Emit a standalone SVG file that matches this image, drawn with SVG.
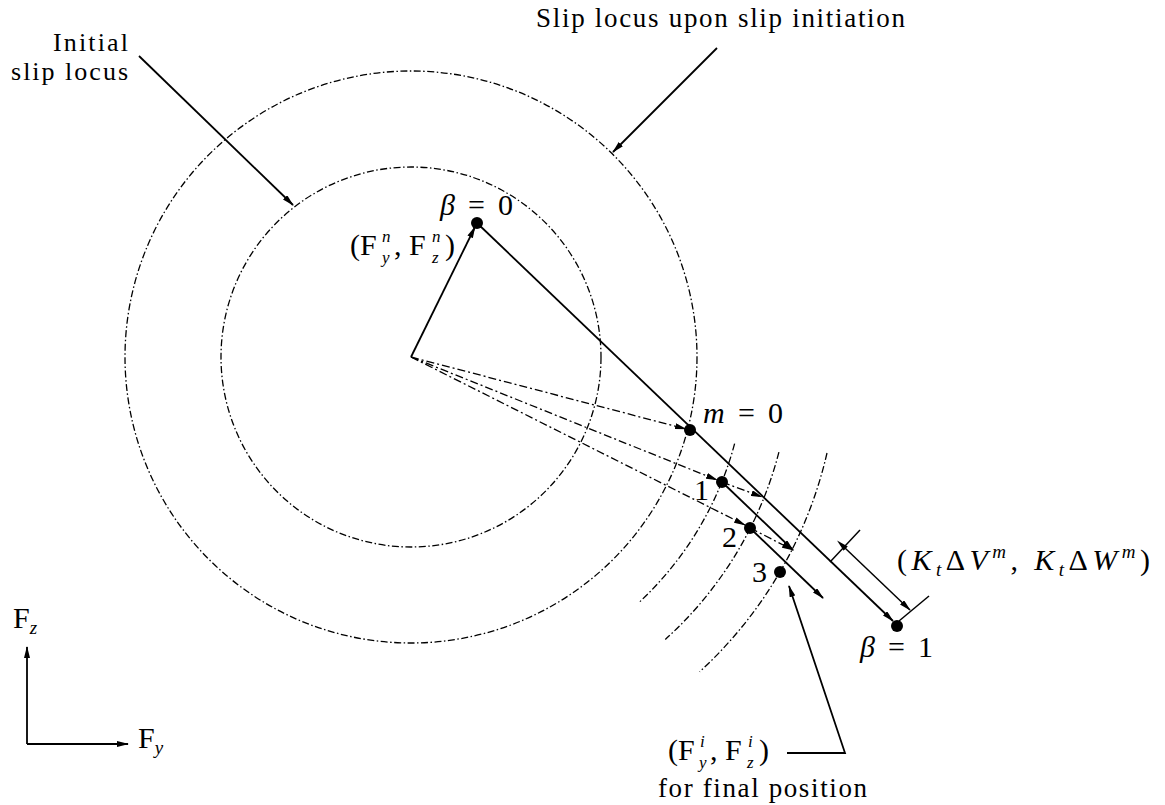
<svg xmlns="http://www.w3.org/2000/svg" width="1165" height="805" viewBox="0 0 1165 805">
<defs>
<marker id="ah" viewBox="0 0 12 6" refX="11" refY="3" markerWidth="12" markerHeight="6" markerUnits="userSpaceOnUse" orient="auto">
<path d="M0,0 L12,3 L0,6 z" fill="#000"/>
</marker>
<marker id="ahs" viewBox="0 0 12 6" refX="1" refY="3" markerWidth="12" markerHeight="6" markerUnits="userSpaceOnUse" orient="auto-start-reverse">
<path d="M0,0 L12,3 L0,6 z" fill="#000"/>
</marker>
</defs>
<style>
.t{font-size:27px}
.m{font-size:30px}
.i{font-style:italic}
.s{font-size:19px}
.ss{font-size:17px;font-style:italic}
.loc{fill:none;stroke:#000;stroke-width:1.3;stroke-dasharray:7 2.5 1.5 2.5}
.rad{fill:none;stroke:#000;stroke-width:1.3;stroke-dasharray:8 3 2 3}
.sol{fill:none;stroke:#000;stroke-width:1.8}
.thin{fill:none;stroke:#000;stroke-width:1.5}
</style>
<rect width="1165" height="805" fill="#fff"/>

<g id="loci">
<circle id="initial-locus" class="loc" cx="411" cy="357" r="190"/>
<circle id="initiation-locus" class="loc" cx="411" cy="357" r="286"/>
<path id="arc1" class="loc" d="M734.6,443.7 A335,335 0 0 1 639.5,602"/>
<path id="arc2" class="loc" d="M778.9,452.2 A380,380 0 0 1 665.3,639.4"/>
<path id="arc3" class="loc" d="M827,453 A427,427 0 0 1 699.6,671.8"/>
</g>

<g id="connectors">
<line class="sol" x1="139" y1="56" x2="293" y2="205" marker-end="url(#ah)"/>
<line class="sol" x1="717" y1="48" x2="613" y2="152" marker-end="url(#ah)"/>
<line class="sol" x1="411" y1="357" x2="475" y2="227" marker-end="url(#ah)"/>
<line class="sol" x1="477" y1="223" x2="893" y2="621" marker-end="url(#ah)"/>
<line class="rad" x1="411" y1="357" x2="686" y2="429" marker-end="url(#ah)"/>
<line class="rad" x1="411" y1="357" x2="717" y2="480" marker-end="url(#ah)"/>
<line class="rad" x1="722" y1="482" x2="762" y2="497" marker-end="url(#ah)"/>
<line class="rad" x1="411" y1="357" x2="745" y2="525" marker-end="url(#ah)"/>
<line class="rad" x1="750" y1="528" x2="793" y2="550" marker-end="url(#ah)"/>
<line class="sol" x1="722" y1="482" x2="793" y2="550" marker-end="url(#ah)"/>
<line class="sol" x1="750" y1="528" x2="823" y2="598" marker-end="url(#ah)"/>
<line class="thin" x1="830" y1="562" x2="860" y2="530"/>
<line class="thin" x1="899" y1="621" x2="929" y2="596"/>
<line class="thin" x1="845" y1="548" x2="910" y2="610" marker-start="url(#ahs)" marker-end="url(#ah)"/>
<polyline class="sol" points="787,753 845,753 789,586" marker-end="url(#ah)"/>
<line class="sol" x1="27" y1="744" x2="27" y2="647" marker-end="url(#ah)"/>
<line class="sol" x1="27" y1="744" x2="128" y2="744" marker-end="url(#ah)"/>
</g>

<g id="points">
<circle id="beta0" cx="477" cy="223" r="6"/>
<circle id="m0" cx="690" cy="430" r="6"/>
<circle id="p1" cx="722" cy="482" r="6"/>
<circle id="p2" cx="750" cy="528" r="6"/>
<circle id="p3" cx="780" cy="572" r="6"/>
<circle id="beta1" cx="897" cy="626" r="6"/>
</g>

<g font-family="Liberation Serif, Times New Roman, DejaVu Serif, serif" fill="#000">
<g id="label-initial">
<text font-size="26" x="128" y="51" text-anchor="end" textLength="75" lengthAdjust="spacing">Initial</text>
<text font-size="26" x="128" y="80" text-anchor="end" textLength="117" lengthAdjust="spacing">slip locus</text>
</g>
<g id="label-initiation">
<text class="t" x="536" y="27" textLength="369" lengthAdjust="spacing">Slip locus upon slip initiation</text>
</g>
<g id="label-beta0">
<text class="m" x="440" y="215" textLength="73" lengthAdjust="spacing"><tspan class="i">β</tspan> = 0</text>
</g>
<g id="label-Fn">
<text class="m" x="350" y="255">(F</text>
<text class="ss" x="382" y="242">n</text>
<text class="ss" x="382" y="263">y</text>
<text class="m" x="394" y="255">, F</text>
<text class="ss" x="432" y="242">n</text>
<text class="ss" x="432" y="263">z</text>
<text class="m" x="445" y="255">)</text>
</g>
<g id="label-m0">
<text class="m" x="703" y="423" textLength="80" lengthAdjust="spacing"><tspan class="i">m</tspan> = 0</text>
</g>
<g id="label-1"><text class="m" x="694" y="500">1</text></g>
<g id="label-2"><text class="m" x="722" y="547">2</text></g>
<g id="label-3"><text class="m" x="752" y="582">3</text></g>
<g id="label-K">
<text class="m" x="897" y="570" textLength="253" lengthAdjust="spacing">(<tspan class="i">K</tspan><tspan class="s i" dy="6">t</tspan><tspan dy="-6">Δ</tspan><tspan class="i">V</tspan><tspan class="s i" dy="-12">m</tspan><tspan dy="12">, </tspan><tspan class="i">K</tspan><tspan class="s i" dy="6">t</tspan><tspan dy="-6">Δ</tspan><tspan class="i">W</tspan><tspan class="s i" dy="-12">m</tspan><tspan dy="12">)</tspan></text>
</g>
<g id="label-beta1">
<text class="m" x="860" y="657" textLength="73" lengthAdjust="spacing"><tspan class="i">β</tspan> = 1</text>
</g>
<g id="label-Fi">
<text class="m" x="668" y="760">(F</text>
<text class="ss" x="700" y="747">i</text>
<text class="ss" x="699" y="768">y</text>
<text class="m" x="710" y="760">, F</text>
<text class="ss" x="748" y="747">i</text>
<text class="ss" x="747" y="768">z</text>
<text class="m" x="759" y="760">)</text>
<text class="t" x="658" y="797" textLength="209" lengthAdjust="spacing">for final position</text>
</g>
<g id="axis-z-label">
<text class="m" x="13" y="628">F<tspan class="s i" dy="6">z</tspan></text>
</g>
<g id="axis-y-label">
<text class="m" x="138" y="748">F<tspan class="s i" dy="6">y</tspan></text>
</g>
</g>
</svg>
